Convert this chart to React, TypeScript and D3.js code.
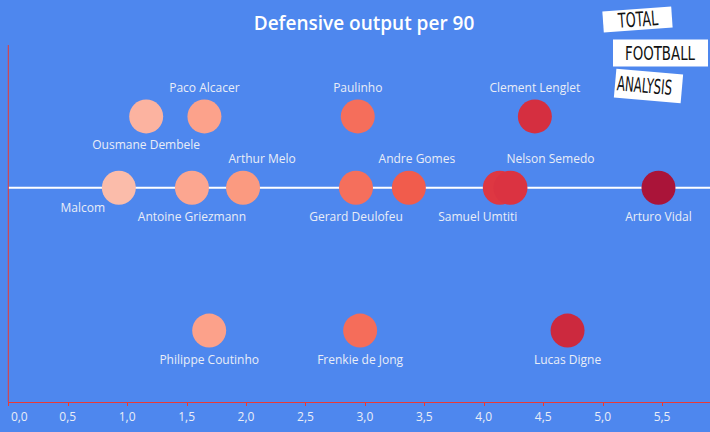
import React from "react";
import * as d3 from "d3";

const players = [
  "Ousmane Dembele", "Paco Alcacer", "Paulinho", "Clement Lenglet",
  "Malcom", "Antoine Griezmann", "Arthur Melo", "Gerard Deulofeu", "Andre Gomes",
  "Samuel Umtiti", "Nelson Semedo", "Arturo Vidal",
  "Philippe Coutinho", "Frenkie de Jong", "Lucas Digne",
];
const values = [1.16, 1.65, 2.94, 4.43, 0.93, 1.545, 1.975, 2.925, 3.37, 4.135, 4.225, 5.47, 1.69, 2.96, 4.705];
const rows = [1, 1, 1, 1, 0, 0, 0, 0, 0, 0, 0, 0, -2, -2, -2];
const labelSide = ["below", "above", "above", "above", "below", "below", "above", "below", "above", "below", "above", "below", "below", "below", "below"];
const labelNudge = [0, 0, 0, 0, -36, 0, 19, 0, 8, -22, 40, 0, 0, 0, 0];
const xTicks = [0, 0.5, 1, 1.5, 2, 2.5, 3, 3.5, 4, 4.5, 5, 5.5];
const title = "Defensive output per 90";
const logoWords = ["TOTAL", "FOOTBALL", "ANALYSIS"];

const W = 710, H = 432;
const BG = "#4e87ee";
const AXIS = "#e83a36";
const TXT = "#e9edf7";
const FONT = "'Open Sans', 'Noto Sans', sans-serif";

export default function App() {
  const x = d3.scaleLinear().domain([0, 5.895]).range([8.3, 709]);
  const y = d3.scaleLinear().domain([-3, 2]).range([402, 45]);
  const color = d3.scaleLinear<string>()
    .domain([0.93, 1.16, 1.65, 1.975, 2.94, 3.37, 4.2, 4.7, 5.47])
    .range(["#fbbcaa", "#fcb3a0", "#fca28b", "#fb9a80", "#f56e5b", "#f15c4c", "#dc3441", "#cc293e", "#aa1439"])
    .clamp(true);

  const logoBoxes = [
    { cx: 637.5, cy: 19.5, w: 69, h: 21, rot: -4, tx: 638, tw: 40 },
    { cx: 660.5, cy: 53, w: 95, h: 27, rot: 0, tx: 660, tw: 70 },
    { cx: 648.5, cy: 86, w: 67, h: 29, rot: 5, tx: 644.5, tw: 55 },
  ];

  return (
    <svg width={W} height={H} style={{ position: "fixed", left: 0, top: 0, display: "block" }}>
      <rect x={0} y={0} width={W} height={H} fill={BG} />
      <text x={364} y={30} textAnchor="middle" fill="#ffffff" fontFamily={FONT} fontSize={19} fontWeight={600}>
        {title}
      </text>

      {logoBoxes.map((b, i) => (
        <g key={i} transform={`translate(${b.cx},${b.cy}) rotate(${b.rot})`}>
          <rect x={-b.w / 2} y={-b.h / 2} width={b.w} height={b.h} fill="#ffffff" />
          <g transform={`translate(${b.tx - b.cx},7) scale(1,1.45)`}>
            <text x={0} y={0} textAnchor="middle" fill="#111" fontFamily="'DejaVu Sans Condensed', 'DejaVu Sans', sans-serif"
              fontSize={14} fontWeight={200} textLength={b.tw} lengthAdjust="spacingAndGlyphs">
              {logoWords[i]}
            </text>
          </g>
        </g>
      ))}

      {/* zero-row reference line */}
      <line x1={x(0)} x2={W} y1={y(0)} y2={y(0)} stroke="#ffffff" strokeWidth={2} />

      {/* axes */}
      <line x1={x(0)} x2={x(0)} y1={45} y2={y(-3)} stroke={AXIS} strokeWidth={1} />
      <line x1={x(0)} x2={W} y1={y(-3) + 0.5} y2={y(-3) + 0.5} stroke={AXIS} strokeWidth={1} />
      {xTicks.map((t, i) => (
        <g key={t}>
          <line x1={Math.round(x(t)) + 0.5} x2={Math.round(x(t)) + 0.5} y1={y(-3)} y2={y(-3) + 4} stroke={AXIS} strokeWidth={1} />
          <text x={i === 0 ? x(t) + 11 : x(t)} y={421} textAnchor="middle" fill={TXT} fontFamily={FONT} fontSize={12}>
            {d3.format(".1f")(t).replace(".", ",")}
          </text>
        </g>
      ))}

      {players.map((p, i) => (
        <circle key={p} cx={x(values[i])} cy={y(rows[i])} r={17} fill={color(values[i])} />
      ))}

      {players.map((p, i) => {
        const cx = x(values[i]) + labelNudge[i];
        const cy = y(rows[i]);
        let ly = labelSide[i] === "above" ? cy - 29 + 4.5 : cy + 28.5 + 4.5;
        if (p === "Malcom") ly = cy + 20 + 4.5;
        return (
          <text key={p} x={cx} y={ly} textAnchor="middle" fill={TXT} fontFamily={FONT} fontSize={12}>
            {p}
          </text>
        );
      })}
    </svg>
  );
}
